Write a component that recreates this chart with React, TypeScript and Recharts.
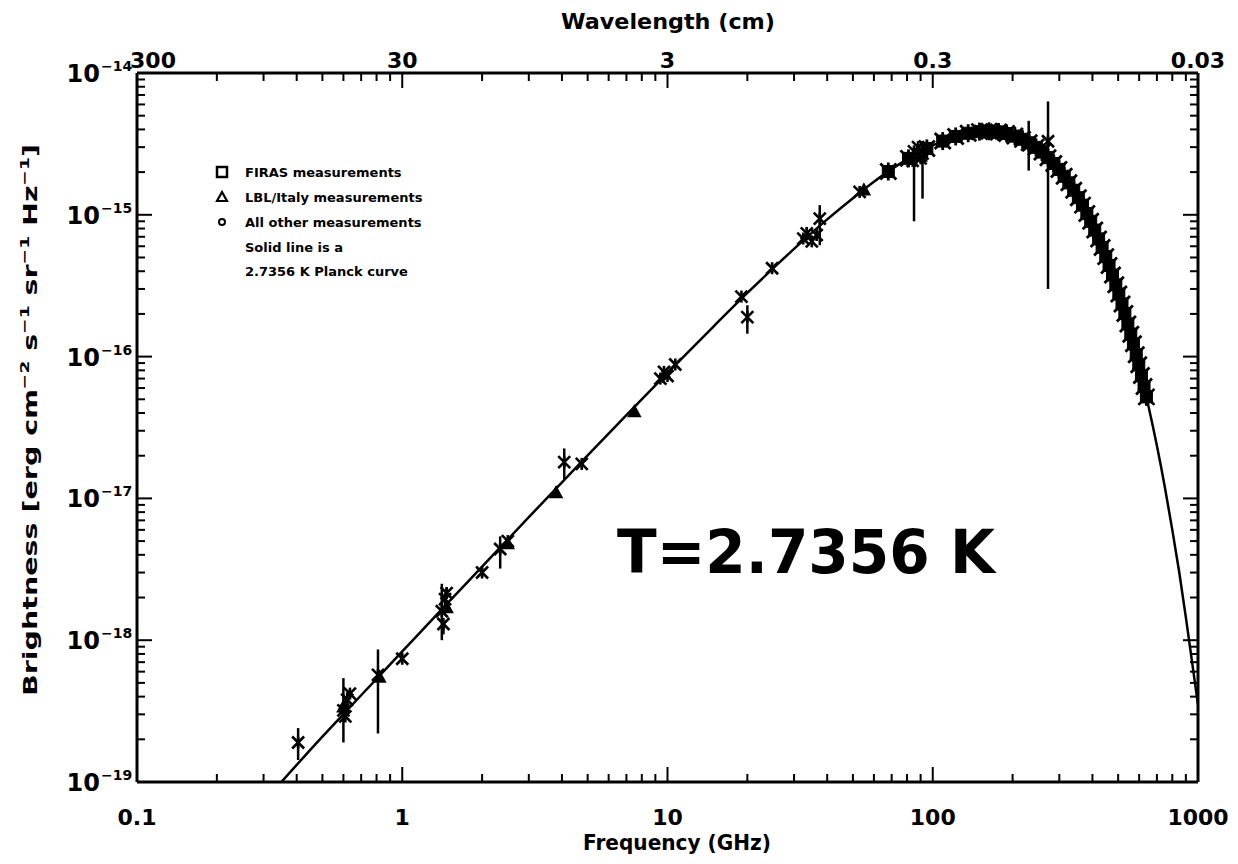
import React from 'react';
import { ComposedChart, Line, Scatter, XAxis, YAxis, ErrorBar } from 'recharts';

const FONT = '"DejaVu Sans", Verdana, sans-serif';

// ---- axis ticks ----
const X_TICKS = [0.1, 0.2, 0.3, 0.4, 0.5, 0.6, 0.7, 0.8, 0.9, 1, 2, 3, 4, 5, 6, 7, 8, 9, 10, 20, 30, 40, 50, 60, 70, 80, 90, 100, 200, 300, 400, 500, 600, 700, 800, 900, 1000];
const X_MAJOR = [0.1, 1, 10, 100, 1000];
const FREQ_LABELS = ['0.1', '1', '10', '100', '1000'];
const WAVE_LABELS = ['300', '30', '3', '0.3', '0.03'];
const Y_TICKS = [
  1e-19, 2e-19, 3e-19, 4e-19, 5e-19, 6e-19, 7e-19, 8e-19, 9e-19,
  1e-18, 2e-18, 3e-18, 4e-18, 5e-18, 6e-18, 7e-18, 8e-18, 9e-18,
  1e-17, 2e-17, 3e-17, 4e-17, 5e-17, 6e-17, 7e-17, 8e-17, 9e-17,
  1e-16, 2e-16, 3e-16, 4e-16, 5e-16, 6e-16, 7e-16, 8e-16, 9e-16,
  1e-15, 2e-15, 3e-15, 4e-15, 5e-15, 6e-15, 7e-15, 8e-15, 9e-15,
  1e-14,
];
const Y_MAJOR = [1e-19, 1e-18, 1e-17, 1e-16, 1e-15, 1e-14];
const Y_EXP = ['\u221219', '\u221218', '\u221217', '\u221216', '\u221215', '\u221214'];

// ---- solid curve (2.7356 K) ----
const CURVE_NU = [0.35, 0.5, 0.7, 1, 1.5, 2, 3, 5, 7, 10, 15, 20, 30, 40, 50, 60, 70, 80, 100, 120, 140, 160, 180, 200, 230, 260, 300, 350, 400, 450, 500, 550, 600, 650, 700, 750, 800, 850, 900, 950, 1000];
const CURVE_B = [1.0e-19, 2.09e-19, 4.09e-19, 8.33e-19, 1.87e-18, 3.3e-18, 7.37e-18, 2.01e-17, 3.87e-17, 7.69e-17, 1.65e-16, 2.81e-16, 5.75e-16, 9.28e-16, 1.31e-15, 1.71e-15, 2.1e-15, 2.46e-15, 3.09e-15, 3.54e-15, 3.8e-15, 3.88e-15, 3.82e-15, 3.64e-15, 3.23e-15, 2.74e-15, 2.07e-15, 1.37e-15, 8.5e-16, 5.0e-16, 2.86e-16, 1.58e-16, 8.5e-17, 4.5e-17, 2.35e-17, 1.2e-17, 6.0e-18, 3.0e-18, 1.45e-18, 7.0e-19, 3.5e-19];

// ---- FIRAS measurements ----
const FIRAS_NU = [68, 81, 95, 109, 122, 136, 150, 163, 177, 190, 204, 218, 231, 245, 258, 272, 286, 299, 313, 326, 340, 354, 367, 381, 394, 408, 422, 435, 449, 462, 476, 490, 503, 517, 530, 544, 558, 571, 585, 598, 612, 626, 639];
const FIRAS_B = [2.02e-15, 2.5e-15, 2.94e-15, 3.31e-15, 3.57e-15, 3.76e-15, 3.86e-15, 3.88e-15, 3.84e-15, 3.74e-15, 3.59e-15, 3.41e-15, 3.22e-15, 2.99e-15, 2.77e-15, 2.53e-15, 2.3e-15, 2.09e-15, 1.87e-15, 1.68e-15, 1.49e-15, 1.32e-15, 1.17e-15, 1.02e-15, 9.0e-16, 7.8e-16, 6.76e-16, 5.89e-16, 5.07e-16, 4.39e-16, 3.76e-16, 3.21e-16, 2.76e-16, 2.35e-16, 2.01e-16, 1.7e-16, 1.44e-16, 1.23e-16, 1.03e-16, 8.76e-17, 7.35e-17, 6.15e-17, 5.2e-17];

// ---- LBL/Italy measurements ----
const LBL_NU = [0.6, 0.82, 1.47, 2.5, 3.8, 7.5, 55, 90];
const LBL_B = [3.4e-19, 5.5e-19, 1.7e-18, 4.8e-18, 1.1e-17, 4.1e-17, 1.5e-15, 2.6e-15];

// ---- all other measurements (value, error below, error above) ----
const OTHER_NU = [0.405, 0.6, 0.61, 0.62, 0.635, 0.81, 1.0, 1.41, 1.43, 1.45, 1.47, 2.0, 2.34, 2.5, 4.08, 4.75, 9.4, 9.7, 10.0, 10.7, 19.0, 20.0, 24.8, 32.5, 33.5, 35.0, 36.5, 37.5, 53, 84, 85, 88, 90, 91.5, 230, 272];
const OTHER_B = [1.9e-19, 3.2e-19, 2.9e-19, 3.8e-19, 4.2e-19, 5.7e-19, 7.4e-19, 1.6e-18, 1.3e-18, 1.95e-18, 2.15e-18, 3.0e-18, 4.4e-18, 5.0e-18, 1.8e-17, 1.75e-17, 7.0e-17, 7.8e-17, 7.3e-17, 8.8e-17, 2.65e-16, 1.9e-16, 4.2e-16, 6.8e-16, 7.4e-16, 6.5e-16, 7.2e-16, 9.4e-16, 1.45e-15, 2.4e-15, 2.8e-15, 3.0e-15, 2.5e-15, 2.7e-15, 3.1e-15, 3.3e-15];
const OTHER_LO = [0.47e-19, 1.3e-19, 0, 0.4e-19, 0, 3.5e-19, 0.3e-19, 0.6e-18, 0.2e-18, 0, 0.1e-18, 0.2e-18, 1.2e-18, 0, 0.43e-17, 0, 0, 0.4e-17, 0, 0, 0, 0.45e-16, 0, 0, 0.8e-16, 0, 0, 3.3e-16, 0, 0, 1.9e-15, 0, 0, 1.4e-15, 1.05e-15, 3.0e-15];
const OTHER_HI = [0.5e-19, 2.2e-19, 0, 0.5e-19, 0, 2.9e-19, 0.3e-19, 0.9e-18, 0, 0, 0.2e-18, 0.2e-18, 1.0e-18, 0, 0.45e-17, 0, 0, 0.4e-17, 0, 0, 0, 0.4e-16, 0, 0, 0.8e-16, 0, 0, 2.3e-16, 0, 0, 0.2e-15, 0, 0, 0.2e-15, 1.5e-15, 3.0e-15];

const CURVE = CURVE_NU.map((nu, i) => ({ nu, b: CURVE_B[i] }));
const FIRAS = FIRAS_NU.map((nu, i) => ({ nu, b: FIRAS_B[i] }));
const LBL = LBL_NU.map((nu, i) => ({ nu, b: LBL_B[i] }));
const OTHER = OTHER_NU.map((nu, i) => ({ nu, b: OTHER_B[i], err: [OTHER_LO[i], OTHER_HI[i]] }));

const near = (a: number, b: number) => Math.abs(a / b - 1) < 1e-6;

function BottomTick(props: any) {
  const { x, y, payload } = props;
  const i = X_MAJOR.findIndex((m) => near(m, payload.value));
  const major = i >= 0;
  return (
    <g>
      <line x1={x} x2={x} y1={y} y2={y - (major ? 15 : 8)} stroke="#000" strokeWidth={2} />
      {major && (
        <text x={x} y={y + 43} textAnchor="middle" fontFamily={FONT} fontWeight="bold" fontSize={22} fill="#000">
          {FREQ_LABELS[i]}
        </text>
      )}
    </g>
  );
}

function TopTick(props: any) {
  const { x, y, payload } = props;
  const i = X_MAJOR.findIndex((m) => near(m, payload.value));
  const major = i >= 0;
  return (
    <g>
      <line x1={x} x2={x} y1={y} y2={y + (major ? 15 : 8)} stroke="#000" strokeWidth={2} />
      {major && (
        <text x={x + (i === 0 ? 16 : 0)} y={y - 5} textAnchor="middle" fontFamily={FONT} fontWeight="bold" fontSize={22} fill="#000">
          {WAVE_LABELS[i]}
        </text>
      )}
    </g>
  );
}

function LeftTick(props: any) {
  const { x, y, payload } = props;
  const i = Y_MAJOR.findIndex((m) => near(m, payload.value));
  const major = i >= 0;
  return (
    <g>
      <line x1={x} x2={x + (major ? 15 : 8)} y1={y} y2={y} stroke="#000" strokeWidth={2} />
      {major && (
        <g fontFamily={FONT} fontWeight="bold" fill="#000">
          <text x={x - 37} y={y + 9} textAnchor="end" fontSize={24}>10</text>
          <text x={x - 36} y={y - 2} textAnchor="start" fontSize={14}>{Y_EXP[i]}</text>
        </g>
      )}
    </g>
  );
}

function RightTick(props: any) {
  const { x, y, payload } = props;
  const major = Y_MAJOR.some((m) => near(m, payload.value));
  return <line x1={x} x2={x - (major ? 15 : 8)} y1={y} y2={y} stroke="#000" strokeWidth={2} />;
}

function BottomTitle() {
  return (
    <text x={669} y={842} textAnchor="middle" fontFamily={FONT} fontWeight="bold" fontSize={21} textLength={188} lengthAdjust="spacingAndGlyphs" fill="#000">
      Frequency (GHz)
    </text>
  );
}

function TopTitle() {
  return (
    <text x={660} y={21} textAnchor="middle" fontFamily={FONT} fontWeight="bold" fontSize={21} textLength={214} lengthAdjust="spacingAndGlyphs" fill="#000">
      Wavelength (cm)
    </text>
  );
}

function Annotations() {
  const sup = { fontSize: 13 };
  const rows = ['FIRAS measurements', 'LBL/Italy measurements', 'All other measurements', 'Solid line is a', '2.7356 K Planck curve'];
  const rowY = [169, 194, 219, 244, 268];
  return (
    <g>
      <text
        x={29}
        y={412}
        transform="rotate(-90 29 412)"
        textAnchor="middle"
        fontFamily={FONT}
        fontWeight="bold"
        fontSize={20}
        fill="#000"
        textLength={552}
        lengthAdjust="spacingAndGlyphs"
      >
        Brightness [erg cm<tspan dy={-8} style={sup}>{'\u22122'}</tspan>
        <tspan dy={8}> s</tspan><tspan dy={-8} style={sup}>{'\u22121'}</tspan>
        <tspan dy={8}> sr</tspan><tspan dy={-8} style={sup}>{'\u22121'}</tspan>
        <tspan dy={8}> Hz</tspan><tspan dy={-8} style={sup}>{'\u22121'}</tspan>
        <tspan dy={8}>]</tspan>
      </text>
      {/* legend */}
      <rect x={209} y={159} width={10} height={10} fill="none" stroke="#000" strokeWidth={2.5} />
      <polygon points="214,184 209,193 219,193" fill="none" stroke="#000" strokeWidth={2.2} />
      <circle cx={214} cy={214} r={3} fill="none" stroke="#000" strokeWidth={2} />
      {rows.map((r, i) => (
        <text key={r} x={237} y={rowY[i]} fontFamily={FONT} fontWeight="bold" fontSize={13} fill="#000">
          {r}
        </text>
      ))}
      <text x={609} y={565} fontFamily={FONT} fontWeight="bold" fontSize={60} textLength={378} lengthAdjust="spacingAndGlyphs" fill="#000">
        T=2.7356 K
      </text>
    </g>
  );
}

function XMark(props: any) {
  const { cx, cy } = props;
  if (cx == null || cy == null) return null;
  const s = 6;
  return (
    <g stroke="#000" strokeWidth={2.6}>
      <line x1={cx - s} y1={cy - s} x2={cx + s} y2={cy + s} />
      <line x1={cx - s} y1={cy + s} x2={cx + s} y2={cy - s} />
      <line x1={cx} y1={cy - s} x2={cx} y2={cy + s} />
    </g>
  );
}

function FirasMark(props: any) {
  const { cx, cy } = props;
  if (cx == null || cy == null) return null;
  const s = 8;
  return (
    <g stroke="#000" strokeWidth={2.8}>
      <rect x={cx - 6} y={cy - 6} width={12} height={12} fill="#000" strokeWidth={1} />
      <line x1={cx - s} y1={cy - s} x2={cx + s} y2={cy + s} />
      <line x1={cx - s} y1={cy + s} x2={cx + s} y2={cy - s} />
      <line x1={cx} y1={cy - s - 1} x2={cx} y2={cy + s + 1} />
    </g>
  );
}

function TriMark(props: any) {
  const { cx, cy } = props;
  if (cx == null || cy == null) return null;
  return <polygon points={`${cx},${cy - 6} ${cx - 6},${cy + 5} ${cx + 6},${cy + 5}`} fill="#000" stroke="#000" strokeWidth={1.5} />;
}

export default function App() {
  return (
    <div style={{ width: 1222, height: 848, background: '#fff' }}>
      <ComposedChart width={1222} height={848} margin={{ top: 0, right: 0, bottom: 0, left: 0 }}>
        <XAxis
          xAxisId="b"
          dataKey="nu"
          type="number"
          scale="log"
          domain={[0.1, 1000]}
          allowDataOverflow
          ticks={X_TICKS}
          interval={0}
          orientation="bottom"
          height={74}
          tickSize={0}
          tickMargin={0}
          tickLine={false}
          axisLine={{ stroke: '#000', strokeWidth: 3 }}
          tick={<BottomTick />}
          label={<BottomTitle />}
        />
        <XAxis
          xAxisId="t"
          dataKey="nu"
          type="number"
          scale="log"
          domain={[0.1, 1000]}
          allowDataOverflow
          ticks={X_TICKS}
          interval={0}
          orientation="top"
          height={65}
          tickSize={0}
          tickMargin={0}
          tickLine={false}
          axisLine={{ stroke: '#000', strokeWidth: 3 }}
          tick={<TopTick />}
          label={<TopTitle />}
        />
        <YAxis
          yAxisId="l"
          dataKey="b"
          type="number"
          scale="log"
          domain={[1e-19, 1e-14]}
          allowDataOverflow
          ticks={Y_TICKS}
          interval={0}
          orientation="left"
          width={129}
          tickSize={0}
          tickMargin={0}
          tickLine={false}
          axisLine={{ stroke: '#000', strokeWidth: 3 }}
          tick={<LeftTick />}
          label={<Annotations />}
        />
        <YAxis
          yAxisId="r"
          dataKey="b"
          type="number"
          scale="log"
          domain={[1e-19, 1e-14]}
          allowDataOverflow
          ticks={Y_TICKS}
          interval={0}
          orientation="right"
          width={32}
          tickSize={0}
          tickMargin={0}
          tickLine={false}
          axisLine={{ stroke: '#000', strokeWidth: 3 }}
          tick={<RightTick />}
        />
        <Line
          xAxisId="b"
          yAxisId="l"
          data={CURVE}
          dataKey="b"
          type="monotone"
          stroke="#000"
          strokeWidth={2.5}
          dot={false}
          activeDot={false}
          isAnimationActive={false}
        />
        <Scatter xAxisId="b" yAxisId="l" data={OTHER} dataKey="b" shape={<XMark />} isAnimationActive={false}>
          <ErrorBar dataKey="err" direction="y" width={0} stroke="#000" strokeWidth={2.5} isAnimationActive={false} />
        </Scatter>
        <Scatter xAxisId="b" yAxisId="l" data={LBL} dataKey="b" shape={<TriMark />} isAnimationActive={false} />
        <Scatter xAxisId="b" yAxisId="l" data={FIRAS} dataKey="b" shape={<FirasMark />} isAnimationActive={false} />
      </ComposedChart>
    </div>
  );
}
